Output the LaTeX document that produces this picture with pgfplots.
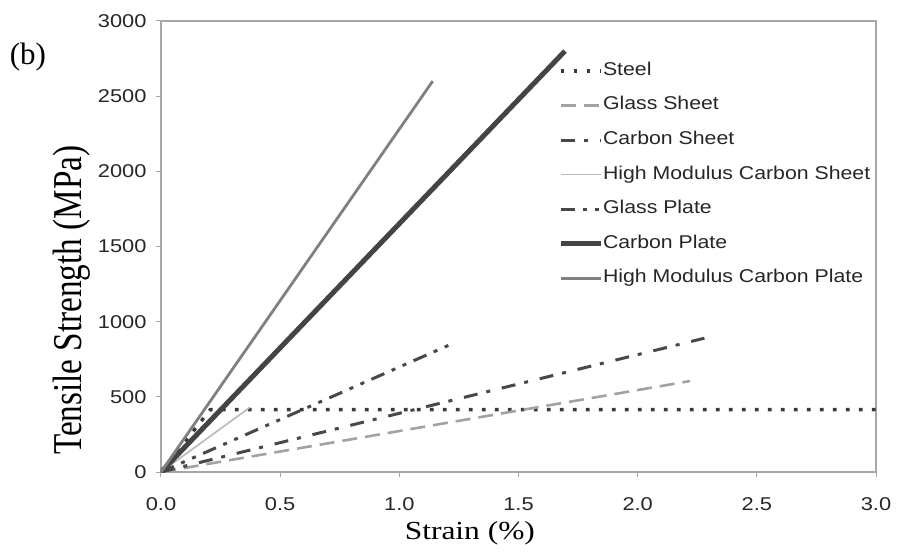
\documentclass[border=0pt]{standalone}
\usepackage{pgfplots}
\pgfplotsset{compat=1.18}
\usepackage{fontspec}
\setmainfont{Liberation Serif}
\newfontfamily\tickfont[FakeStretch=1.18]{Liberation Sans}
\newfontfamily\legfont[FakeStretch=1.15]{Liberation Sans}
\newfontfamily\xlabfont[FakeStretch=1.21]{Liberation Serif}
\newfontfamily\ylabfont[FakeStretch=0.81]{Liberation Serif}
\definecolor{steelc}{HTML}{3A3A3A}
\definecolor{gsheet}{HTML}{A2A2A2}
\definecolor{csheet}{HTML}{484848}
\definecolor{hmcs}{HTML}{B8B8B8}
\definecolor{gplate}{HTML}{484848}
\definecolor{cplate}{HTML}{444444}
\definecolor{hmcp}{HTML}{808080}
\definecolor{axc}{HTML}{A6A6A6}
\begin{document}
\begin{tikzpicture}
\begin{axis}[
  scale only axis, width=715pt, height=451pt,
  xmin=0, xmax=3, ymin=0, ymax=3000,
  xtick={0,0.5,1,1.5,2,2.5,3},
  xticklabels={0.0,0.5,1.0,1.5,2.0,2.5,3.0},
  ytick={0,500,1000,1500,2000,2500,3000},
  yticklabels={0,500,1000,1500,2000,2500,3000},
  tick align=outside, xtick pos=left, ytick pos=left,
  major tick length=5pt,
  every tick/.style={draw=axc, line width=1pt},
  axis line style={draw=axc, line width=1.6pt},
  ticklabel style={font=\tickfont\fontsize{18.5}{18.5}\selectfont, text=black!85},
  yticklabel style={xshift=-6pt},
  xticklabel style={yshift=-17pt},
  xlabel={Strain (\%)},
  ylabel={Tensile Strength (MPa)},
  xlabel style={font=\xlabfont\fontsize{26}{26}\selectfont, at={(rel axis cs:0.432,-0.136)}, anchor=center},
  ylabel style={font=\ylabfont\fontsize{41}{41}\selectfont, at={(rel axis cs:-0.1245,0.381)}, anchor=center},
  legend style={at={(rel axis cs:0.555,0.911)}, anchor=north west, draw=none, fill=none, inner sep=0pt,
    font=\legfont\fontsize{18.5}{18.5}\selectfont, text=black!85, row sep=15.6pt,
    nodes={inner xsep=0pt, inner ysep=1pt, text height=13pt, text depth=4pt}},
  legend cell align=left,
  legend image code/.code={\draw[#1] (0pt,0pt) -- (40pt,0pt);},
]
\coordinate (sw) at (rel axis cs:0,0);
\coordinate (ne) at (rel axis cs:1,1);
\addplot[steelc, line width=3.4pt, dash pattern=on 3.8pt off 9.2pt] coordinates {(0,0) (0.207,415) (3.0,415)};
\addlegendentry{Steel}
\addplot[gsheet, line width=2.6pt, dash pattern=on 15pt off 8pt] coordinates {(0,0) (2.22,605)};
\addlegendentry{Glass Sheet}
\addplot[csheet, line width=3pt, dash pattern=on 14pt off 9pt on 4pt off 12pt] coordinates {(0,0) (2.28,890)};
\addlegendentry{Carbon Sheet}
\addplot[hmcs, line width=1.6pt] coordinates {(0,0) (0.373,430)};
\addlegendentry{High Modulus Carbon Sheet}
\addplot[gplate, line width=3pt, dash pattern=on 14pt off 8pt on 4pt off 8pt on 4pt off 8pt] coordinates {(0,0) (1.21,845)};
\addlegendentry{Glass Plate}
\addplot[cplate, line width=5pt] coordinates {(0,0) (1.695,2800)};
\addlegendentry{Carbon Plate}
\addplot[hmcp, line width=2.8pt] coordinates {(0,0) (1.14,2600)};
\addlegendentry{High Modulus Carbon Plate}
\end{axis}
\node[font=\fontsize{31}{31}\selectfont] at ([shift={(-133pt,415pt)}]sw) {(b)};
\pgfresetboundingbox
\path ([shift={(-161pt,-79pt)}]sw) rectangle ([shift={(25pt,21pt)}]ne);
\end{tikzpicture}
\end{document}
